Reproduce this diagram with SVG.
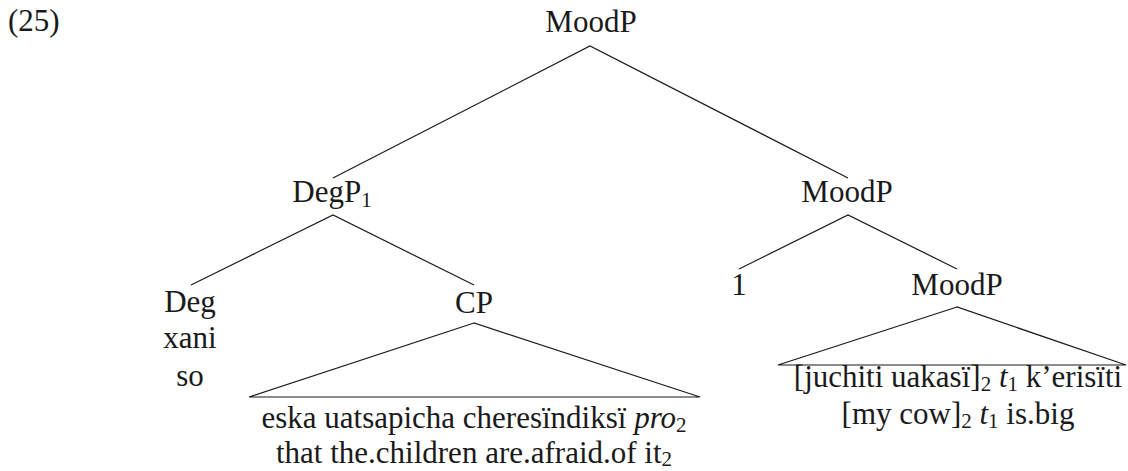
<svg xmlns="http://www.w3.org/2000/svg" width="1128" height="471" viewBox="0 0 1128 471" font-family="Liberation Serif, serif">
  <style>
    text { font-family: "Liberation Serif", "Times New Roman", serif; font-size: 31px; fill: #1a1a1a; }
    .c { text-anchor: middle; }
    .sub { font-size: 21px; }
    .it { font-style: italic; }
    .edge { stroke: #1a1a1a; stroke-width: 1.2; fill: none; }
  </style>
  <rect width="1128" height="471" fill="#ffffff"/>

  <text id="ex-number" x="8" y="31">(25)</text>

  <!-- branches and triangles -->
  <g id="connectors">
    <polyline class="edge" points="333,178 590,46 848,178"/>
    <polyline class="edge" points="191,285 333,215 474,285"/>
    <polyline class="edge" points="739,269 848,215 957,269"/>
    <polygon class="edge" points="474,323 249,397 700,397"/>
    <polygon class="edge" points="957,307 778,365 1126,365"/>
  </g>

  <g id="moodp-root"><text class="c" x="591" y="32">MoodP</text></g>
  <g id="degp"><text class="c" x="332" y="202">DegP<tspan class="sub" dy="5">1</tspan></text></g>
  <g id="moodp-mid"><text class="c" x="847" y="202">MoodP</text></g>
  <g id="deg">
    <text class="c" x="190" y="312">Deg</text>
    <text class="c" x="190" y="348">xani</text>
    <text class="c" x="190" y="386">so</text>
  </g>
  <g id="cp">
    <text class="c" x="474" y="313">CP</text>
    <text class="c" x="474" y="428">eska uatsapicha cheresïndiksï <tspan class="it">pro</tspan><tspan class="sub" dy="4">2</tspan></text>
    <text class="c" x="474" y="463">that the.children are.afraid.of it<tspan class="sub" dy="3">2</tspan></text>
  </g>
  <g id="index-1"><text class="c" x="739" y="295">1</text></g>
  <g id="moodp-low">
    <text class="c" x="958" y="387">[juchiti uakasï]<tspan class="sub" dy="4">2</tspan><tspan dy="-4"> </tspan><tspan class="it">t</tspan><tspan class="sub" dy="4">1</tspan><tspan dy="-4"> k’erisïti</tspan></text>
    <text class="c" x="958" y="424">[my cow]<tspan class="sub" dy="4">2</tspan><tspan dy="-4"> </tspan><tspan class="it">t</tspan><tspan class="sub" dy="4">1</tspan><tspan dy="-4"> is.big</tspan></text>
    <text class="c" x="957" y="295">MoodP</text>
  </g>
</svg>
